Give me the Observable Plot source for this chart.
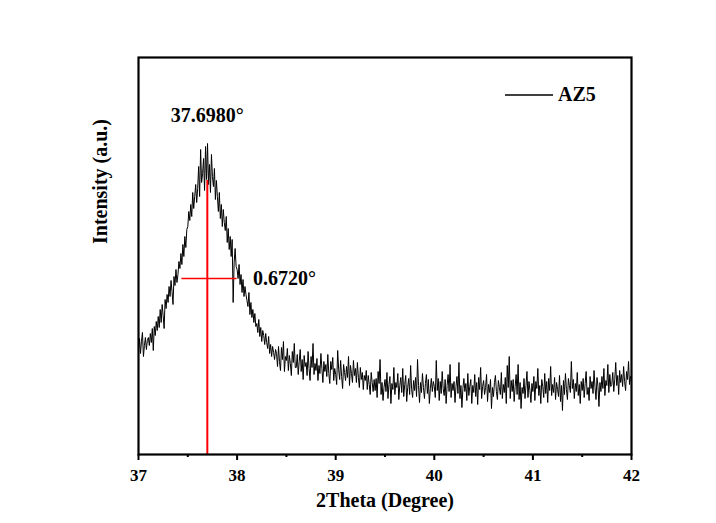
<!DOCTYPE html>
<html>
<head>
<meta charset="utf-8">
<script src="https://cdn.jsdelivr.net/npm/d3@7"></script>
<script src="https://cdn.jsdelivr.net/npm/@observablehq/plot@0.6"></script>
<style>
  html, body { margin: 0; padding: 0; background: #fff; }
  #wrap { position: relative; width: 716px; height: 523px; font-family: "Liberation Serif", "Times New Roman", serif; }
  #legend { position: absolute; left: 505px; top: 83px; display: flex; align-items: center; font-weight: bold; font-size: 20px; }
  #legend svg { margin-right: 5px; }
</style>
</head>
<body>
<div id="wrap"><div id="legend"><svg width="48" height="4"><line x1="0" x2="48" y1="2" y2="2" stroke="black" stroke-width="1.4"></line></svg><span id="legendLabel"></span></div></div>
<script>
const seriesName = "AZ5";
// Scan recorded on a fixed 0.01° step from 37° to 42°
const twoThetaStart = 37;
const twoThetaStep = 0.01;
const intensity = [
  106, 116, 101, 113, 122, 98, 109, 117, 105, 114,
  117, 109, 121, 112, 126, 104, 128, 119, 133, 124,
  138, 127, 145, 132, 150, 139, 126, 155, 146, 160,
  152, 168, 158, 174, 163, 150, 178, 169, 185, 172,
  180, 193, 186, 201, 190, 210, 198, 218, 207, 225,
  228, 243, 234, 250, 238, 262, 246, 258, 270, 252,
  266, 288, 258, 305, 272, 281, 296, 264, 308, 275,
  311, 270, 290, 262, 300, 278, 268, 286, 255, 274,
  258, 243, 262, 236, 250, 228, 245, 232, 224, 238,
  212, 226, 205, 218, 198, 215, 152, 192, 206, 188,
  185, 176, 190, 170, 180, 162, 175, 158, 168, 160,
  154, 148, 162, 140, 152, 137, 145, 132, 141, 128,
  131, 122, 135, 118, 127, 113, 124, 119, 110, 121,
  112, 106, 118, 101, 110, 98, 108, 102, 95, 105,
  101, 88, 108, 93, 84, 107, 95, 113, 83, 98,
  94, 106, 84, 99, 91, 79, 103, 92, 111, 87,
  87, 100, 80, 93, 105, 83, 95, 75, 99, 88,
  92, 79, 103, 86, 74, 98, 87, 111, 80, 91,
  84, 96, 74, 89, 81, 101, 86, 72, 93, 83,
  90, 78, 100, 81, 71, 93, 85, 97, 74, 86,
  80, 70, 104, 85, 75, 94, 78, 66, 90, 82,
  74, 88, 77, 98, 69, 89, 81, 72, 94, 79,
  86, 72, 92, 77, 67, 87, 75, 82, 65, 79,
  74, 84, 65, 79, 70, 60, 82, 72, 63, 75,
  64, 76, 57, 83, 71, 95, 60, 72, 54, 67,
  75, 63, 82, 56, 70, 78, 51, 71, 65, 87,
  60, 72, 67, 81, 55, 69, 77, 62, 86, 58,
  70, 79, 53, 67, 76, 60, 89, 65, 57, 74,
  64, 77, 58, 95, 69, 52, 72, 62, 81, 67,
  56, 71, 80, 61, 75, 51, 66, 76, 63, 73,
  68, 57, 94, 64, 76, 54, 73, 61, 83, 66,
  59, 75, 51, 69, 80, 63, 90, 57, 71, 64,
  73, 52, 68, 78, 61, 92, 56, 69, 47, 66,
  76, 63, 71, 54, 81, 59, 68, 75, 51, 69,
  62, 80, 58, 72, 50, 77, 65, 87, 56, 68,
  74, 60, 67, 80, 53, 70, 62, 75, 46, 67,
  58, 72, 79, 63, 55, 74, 67, 60, 82, 56,
  70, 62, 77, 51, 89, 67, 98, 56, 74, 63,
  75, 53, 68, 80, 60, 90, 55, 72, 46, 67,
  61, 76, 56, 69, 83, 57, 73, 64, 52, 71,
  63, 78, 54, 73, 66, 86, 59, 69, 51, 75,
  68, 57, 81, 61, 73, 52, 76, 64, 88, 59,
  70, 62, 77, 55, 72, 65, 58, 79, 53, 69,
  44, 74, 60, 81, 65, 55, 76, 69, 62, 93,
  66, 75, 56, 71, 63, 82, 59, 70, 51, 73,
  64, 76, 57, 71, 83, 60, 67, 54, 78, 66,
  73, 61, 84, 67, 55, 77, 68, 48, 72, 63,
  78, 66, 86, 59, 74, 69, 90, 62, 80, 68,
  70, 82, 63, 75, 92, 69, 79, 60, 84, 72,
  80, 68, 88, 73, 64, 83, 75, 93, 70, 78,
  75
];
const xMajorTicks = [37, 38, 39, 40, 41, 42];
const xMinorTicks = [37.5, 38.5, 39.5, 40.5, 41.5];
const peakPosition = [37.698];
const peakLineTop = [274];
const halfMaxLevel = [176];
const halfLeft = [37.44];
const halfRight = [38.0];
const peakLabel = ["37.6980°"];
const fwhmLabel = ["0.6720°"];
const xLabel = "2Theta (Degree)";
const yLabel = "Intensity (a.u.)";

const data = intensity.map((y, i) => ({x: +(twoThetaStart + i * twoThetaStep).toFixed(2), y}));
const red = "#ff0000";

const chart = Plot.plot({
  width: 716,
  height: 523,
  marginLeft: 138,
  marginRight: 85,
  marginTop: 57,
  marginBottom: 69,
  x: {domain: [37, 42]},
  y: {domain: [0, 397], axis: null},
  style: {fontFamily: "'Liberation Serif', 'Times New Roman', serif", fontWeight: "bold", color: "black", background: "white"},
  marks: [
    Plot.axisX({ticks: xMinorTicks, tickSize: 3, text: null, label: null, strokeWidth: 2}),
    Plot.axisX({ticks: xMajorTicks, tickSize: 6, tickPadding: 8, fontSize: 17, fontWeight: "bold", tickFormat: d => String(d), label: null, strokeWidth: 2}),
    Plot.line(data, {x: "x", y: "y", stroke: "black", strokeWidth: 1}),
    Plot.ruleX(peakPosition, {x: d => d, y1: 0, y2: () => peakLineTop[0], stroke: red, strokeWidth: 2}),
    Plot.ruleY(halfMaxLevel, {y: d => d, x1: () => halfLeft[0], x2: () => halfRight[0], stroke: red, strokeWidth: 1.5}),
    Plot.text(peakLabel, {x: () => peakPosition[0], y: () => d3.max(intensity), dy: -28, text: d => d, fontSize: 20, fontWeight: "bold", fill: "black"}),
    Plot.text(fwhmLabel, {x: () => halfRight[0], y: () => halfMaxLevel[0], dx: 16, dy: 0, textAnchor: "start", text: d => d, fontSize: 20, fontWeight: "bold", fill: "black"}),
    Plot.text([xLabel], {frameAnchor: "bottom", dy: 52, text: d => d, fontSize: 20, fontWeight: "bold"}),
    Plot.text([yLabel], {frameAnchor: "left", dx: -38, dy: -12, rotate: -90, text: d => d, fontSize: 20, fontWeight: "bold"}),
    Plot.frame({stroke: "black", strokeWidth: 2.2})
  ]
});
const wrap = document.getElementById("wrap");
wrap.insertBefore(chart, wrap.firstChild);
document.getElementById("legendLabel").textContent = seriesName;
</script>
</body>
</html>
